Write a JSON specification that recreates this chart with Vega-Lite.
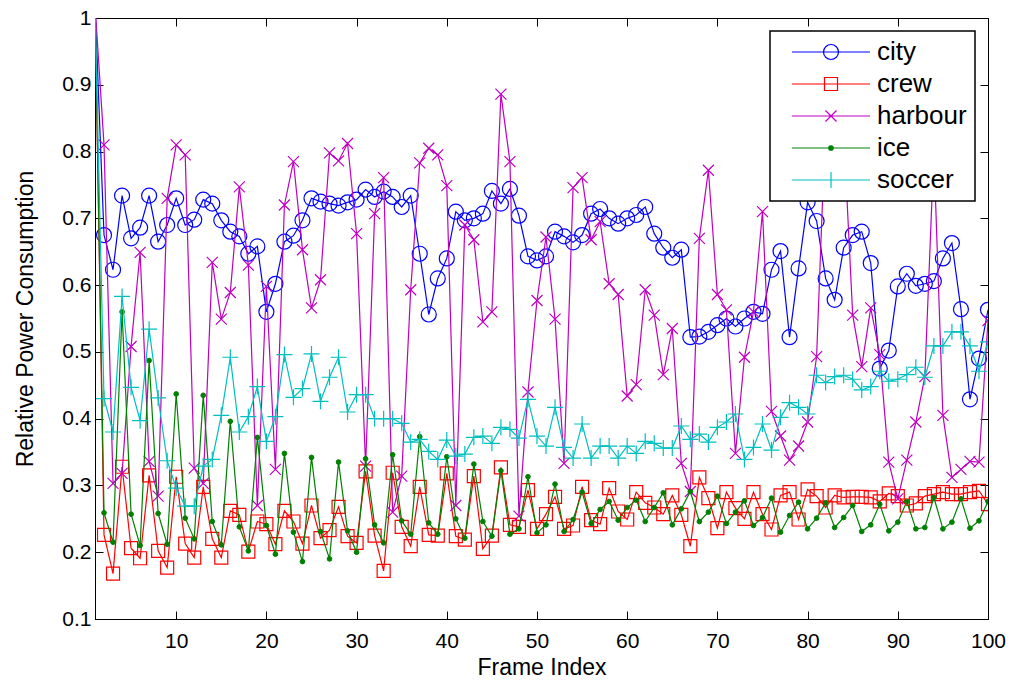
{
  "$schema": "https://vega.github.io/schema/vega-lite/v6.json",
  "autosize": {"type": "none"},
  "padding": {"left": 95, "top": 18, "right": 28, "bottom": 71},
  "width": 893,
  "height": 601,
  "background": "white",
  "config": {
    "view": {"stroke": "black", "strokeWidth": 1},
    "font": "Liberation Sans",
    "axis": {"grid": false, "domainColor": "black", "tickColor": "black", "labelColor": "black", "titleColor": "black", "labelFont": "Liberation Sans", "titleFont": "Liberation Sans", "labelFontSize": 21, "titleFontSize": 23, "titleFontWeight": "normal", "tickSize": -8, "domainWidth": 1, "tickWidth": 1, "labelFlush": false}
  },
  "data": {"values": [
    {"f":1,"city":1.02,"crew":1.02,"harbour":1.02,"ice":1.02,"soccer":1.02},
    {"f":2,"city":0.675,"crew":0.226,"harbour":0.81,"ice":0.259,"soccer":0.43},
    {"f":3,"city":0.623,"crew":0.168,"harbour":0.303,"ice":0.215,"soccer":0.38},
    {"f":4,"city":0.734,"crew":0.328,"harbour":0.318,"ice":0.56,"soccer":0.583},
    {"f":5,"city":0.67,"crew":0.206,"harbour":0.508,"ice":0.257,"soccer":0.447},
    {"f":6,"city":0.686,"crew":0.191,"harbour":0.649,"ice":0.21,"soccer":0.397},
    {"f":7,"city":0.734,"crew":0.315,"harbour":0.336,"ice":0.487,"soccer":0.534},
    {"f":8,"city":0.665,"crew":0.202,"harbour":0.284,"ice":0.258,"soccer":0.431},
    {"f":9,"city":0.69,"crew":0.177,"harbour":0.73,"ice":0.212,"soccer":0.337},
    {"f":10,"city":0.73,"crew":0.313,"harbour":0.81,"ice":0.437,"soccer":0.296},
    {"f":11,"city":0.69,"crew":0.213,"harbour":0.795,"ice":0.251,"soccer":0.269},
    {"f":12,"city":0.698,"crew":0.192,"harbour":0.326,"ice":0.22,"soccer":0.269},
    {"f":13,"city":0.728,"crew":0.298,"harbour":0.303,"ice":0.435,"soccer":0.329},
    {"f":14,"city":0.722,"crew":0.22,"harbour":0.634,"ice":0.246,"soccer":0.339},
    {"f":15,"city":0.697,"crew":0.192,"harbour":0.549,"ice":0.211,"soccer":0.405},
    {"f":16,"city":0.68,"crew":0.262,"harbour":0.589,"ice":0.396,"soccer":0.492},
    {"f":17,"city":0.673,"crew":0.256,"harbour":0.747,"ice":0.238,"soccer":0.38},
    {"f":18,"city":0.647,"crew":0.201,"harbour":0.63,"ice":0.202,"soccer":0.403},
    {"f":19,"city":0.658,"crew":0.246,"harbour":0.27,"ice":0.372,"soccer":0.448},
    {"f":20,"city":0.56,"crew":0.242,"harbour":0.598,"ice":0.24,"soccer":0.366},
    {"f":21,"city":0.602,"crew":0.212,"harbour":0.324,"ice":0.197,"soccer":0.403},
    {"f":22,"city":0.665,"crew":0.262,"harbour":0.72,"ice":0.348,"soccer":0.496},
    {"f":23,"city":0.674,"crew":0.246,"harbour":0.785,"ice":0.23,"soccer":0.432},
    {"f":24,"city":0.697,"crew":0.213,"harbour":0.653,"ice":0.186,"soccer":0.445},
    {"f":25,"city":0.73,"crew":0.27,"harbour":0.566,"ice":0.342,"soccer":0.497},
    {"f":26,"city":0.725,"crew":0.221,"harbour":0.608,"ice":0.231,"soccer":0.426},
    {"f":27,"city":0.722,"crew":0.233,"harbour":0.798,"ice":0.19,"soccer":0.462},
    {"f":28,"city":0.719,"crew":0.268,"harbour":0.786,"ice":0.335,"soccer":0.492},
    {"f":29,"city":0.724,"crew":0.224,"harbour":0.812,"ice":0.232,"soccer":0.41},
    {"f":30,"city":0.728,"crew":0.214,"harbour":0.677,"ice":0.2,"soccer":0.436},
    {"f":31,"city":0.743,"crew":0.321,"harbour":0.329,"ice":0.34,"soccer":0.436},
    {"f":32,"city":0.732,"crew":0.225,"harbour":0.707,"ice":0.241,"soccer":0.4},
    {"f":33,"city":0.74,"crew":0.172,"harbour":0.761,"ice":0.214,"soccer":0.4},
    {"f":34,"city":0.732,"crew":0.319,"harbour":0.26,"ice":0.346,"soccer":0.4},
    {"f":35,"city":0.717,"crew":0.238,"harbour":0.314,"ice":0.247,"soccer":0.393},
    {"f":36,"city":0.734,"crew":0.209,"harbour":0.593,"ice":0.227,"soccer":0.365},
    {"f":37,"city":0.647,"crew":0.298,"harbour":0.783,"ice":0.373,"soccer":0.369},
    {"f":38,"city":0.556,"crew":0.226,"harbour":0.805,"ice":0.244,"soccer":0.351},
    {"f":39,"city":0.61,"crew":0.225,"harbour":0.795,"ice":0.227,"soccer":0.339},
    {"f":40,"city":0.64,"crew":0.318,"harbour":0.749,"ice":0.343,"soccer":0.368},
    {"f":41,"city":0.71,"crew":0.224,"harbour":0.27,"ice":0.25,"soccer":0.344},
    {"f":42,"city":0.697,"crew":0.219,"harbour":0.69,"ice":0.221,"soccer":0.347},
    {"f":43,"city":0.7,"crew":0.314,"harbour":0.668,"ice":0.332,"soccer":0.372},
    {"f":44,"city":0.707,"crew":0.205,"harbour":0.545,"ice":0.246,"soccer":0.374},
    {"f":45,"city":0.741,"crew":0.225,"harbour":0.56,"ice":0.224,"soccer":0.363},
    {"f":46,"city":0.722,"crew":0.327,"harbour":0.886,"ice":0.322,"soccer":0.387},
    {"f":47,"city":0.744,"crew":0.241,"harbour":0.785,"ice":0.227,"soccer":0.384},
    {"f":48,"city":0.704,"crew":0.238,"harbour":0.254,"ice":0.235,"soccer":0.371},
    {"f":49,"city":0.643,"crew":0.293,"harbour":0.44,"ice":0.313,"soccer":0.429},
    {"f":50,"city":0.637,"crew":0.235,"harbour":0.577,"ice":0.229,"soccer":0.374},
    {"f":51,"city":0.643,"crew":0.257,"harbour":0.672,"ice":0.241,"soccer":0.359},
    {"f":52,"city":0.68,"crew":0.283,"harbour":0.549,"ice":0.302,"soccer":0.417},
    {"f":53,"city":0.673,"crew":0.235,"harbour":0.333,"ice":0.231,"soccer":0.357},
    {"f":54,"city":0.664,"crew":0.24,"harbour":0.746,"ice":0.249,"soccer":0.341},
    {"f":55,"city":0.675,"crew":0.298,"harbour":0.761,"ice":0.29,"soccer":0.392},
    {"f":56,"city":0.707,"crew":0.248,"harbour":0.668,"ice":0.243,"soccer":0.341},
    {"f":57,"city":0.714,"crew":0.242,"harbour":0.695,"ice":0.264,"soccer":0.359},
    {"f":58,"city":0.7,"crew":0.296,"harbour":0.602,"ice":0.276,"soccer":0.359},
    {"f":59,"city":0.692,"crew":0.261,"harbour":0.586,"ice":0.248,"soccer":0.341},
    {"f":60,"city":0.7,"crew":0.249,"harbour":0.434,"ice":0.267,"soccer":0.359},
    {"f":61,"city":0.705,"crew":0.29,"harbour":0.451,"ice":0.278,"soccer":0.348},
    {"f":62,"city":0.717,"crew":0.274,"harbour":0.593,"ice":0.246,"soccer":0.366},
    {"f":63,"city":0.677,"crew":0.267,"harbour":0.555,"ice":0.267,"soccer":0.363},
    {"f":64,"city":0.656,"crew":0.257,"harbour":0.466,"ice":0.289,"soccer":0.356},
    {"f":65,"city":0.641,"crew":0.285,"harbour":0.535,"ice":0.241,"soccer":0.356},
    {"f":66,"city":0.653,"crew":0.256,"harbour":0.333,"ice":0.265,"soccer":0.389},
    {"f":67,"city":0.522,"crew":0.209,"harbour":0.291,"ice":0.291,"soccer":0.369},
    {"f":68,"city":0.523,"crew":0.312,"harbour":0.67,"ice":0.246,"soccer":0.377},
    {"f":69,"city":0.53,"crew":0.281,"harbour":0.772,"ice":0.26,"soccer":0.365},
    {"f":70,"city":0.54,"crew":0.236,"harbour":0.586,"ice":0.284,"soccer":0.387},
    {"f":71,"city":0.55,"crew":0.29,"harbour":0.563,"ice":0.243,"soccer":0.395},
    {"f":72,"city":0.538,"crew":0.266,"harbour":0.348,"ice":0.26,"soccer":0.407},
    {"f":73,"city":0.55,"crew":0.25,"harbour":0.492,"ice":0.277,"soccer":0.339},
    {"f":74,"city":0.56,"crew":0.29,"harbour":0.56,"ice":0.24,"soccer":0.357},
    {"f":75,"city":0.557,"crew":0.257,"harbour":0.71,"ice":0.252,"soccer":0.392},
    {"f":76,"city":0.623,"crew":0.234,"harbour":0.411,"ice":0.281,"soccer":0.353},
    {"f":77,"city":0.651,"crew":0.285,"harbour":0.374,"ice":0.23,"soccer":0.402},
    {"f":78,"city":0.522,"crew":0.29,"harbour":0.338,"ice":0.255,"soccer":0.424},
    {"f":79,"city":0.625,"crew":0.249,"harbour":0.359,"ice":0.275,"soccer":0.417},
    {"f":80,"city":0.724,"crew":0.294,"harbour":0.395,"ice":0.235,"soccer":0.407},
    {"f":81,"city":0.696,"crew":0.284,"harbour":0.493,"ice":0.251,"soccer":0.465},
    {"f":82,"city":0.61,"crew":0.267,"harbour":0.85,"ice":0.274,"soccer":0.454},
    {"f":83,"city":0.578,"crew":0.285,"harbour":0.8,"ice":0.237,"soccer":0.463},
    {"f":84,"city":0.656,"crew":0.282,"harbour":0.83,"ice":0.252,"soccer":0.465},
    {"f":85,"city":0.675,"crew":0.283,"harbour":0.555,"ice":0.27,"soccer":0.459},
    {"f":86,"city":0.68,"crew":0.283,"harbour":0.478,"ice":0.231,"soccer":0.443},
    {"f":87,"city":0.633,"crew":0.282,"harbour":0.566,"ice":0.241,"soccer":0.448},
    {"f":88,"city":0.475,"crew":0.276,"harbour":0.496,"ice":0.272,"soccer":0.471},
    {"f":89,"city":0.502,"crew":0.288,"harbour":0.335,"ice":0.232,"soccer":0.456},
    {"f":90,"city":0.598,"crew":0.284,"harbour":0.28,"ice":0.245,"soccer":0.459},
    {"f":91,"city":0.617,"crew":0.27,"harbour":0.338,"ice":0.276,"soccer":0.466},
    {"f":92,"city":0.599,"crew":0.273,"harbour":0.395,"ice":0.235,"soccer":0.477},
    {"f":93,"city":0.602,"crew":0.284,"harbour":0.463,"ice":0.237,"soccer":0.462},
    {"f":94,"city":0.606,"crew":0.287,"harbour":0.8,"ice":0.282,"soccer":0.509},
    {"f":95,"city":0.64,"crew":0.29,"harbour":0.405,"ice":0.235,"soccer":0.509},
    {"f":96,"city":0.663,"crew":0.287,"harbour":0.312,"ice":0.245,"soccer":0.53},
    {"f":97,"city":0.564,"crew":0.287,"harbour":0.324,"ice":0.28,"soccer":0.53},
    {"f":98,"city":0.429,"crew":0.29,"harbour":0.336,"ice":0.236,"soccer":0.509},
    {"f":99,"city":0.49,"crew":0.292,"harbour":0.335,"ice":0.247,"soccer":0.471},
    {"f":100,"city":0.563,"crew":0.272,"harbour":0.547,"ice":0.276,"soccer":0.515}
  ]},
  "transform": [{"fold": ["city", "crew", "harbour", "ice", "soccer"], "as": ["series", "value"]}],
  "resolve": {"axis": {"x": "independent", "y": "independent"}},
  "layer": [
    {
      "transform": [{"filter": "datum.series === 'city'"}],
      "mark": {"type": "line", "strokeWidth": 1.2, "clip": true},
      "encoding": {
        "x": {"field": "f", "type": "quantitative", "scale": {"domain": [1, 100], "nice": false, "zero": false},
              "axis": {"orient": "bottom", "values": [10,20,30,40,50,60,70,80,90,100], "title": "Frame Index", "labelPadding": 19, "titlePadding": 5}},
        "y": {"field": "value", "type": "quantitative", "scale": {"domain": [0.1, 1], "nice": false, "zero": false},
              "axis": {"orient": "left", "values": [0.1,0.2,0.3,0.4,0.5,0.6,0.7,0.8,0.9,1], "format": ".1~f", "title": "Relative Power Consumption", "labelPadding": 12, "titlePadding": 24}},
        "color": {"field": "series", "type": "nominal",
          "scale": {"domain": ["city", "crew", "harbour", "ice", "soccer"], "range": ["#0000ff", "#ff0000", "#bf00bf", "#008000", "#00bfbf"]},
          "legend": {
            "orient": "top-right", "offset": 13, "title": null,
            "strokeColor": "black", "fillColor": "white", "padding": 8,
            "labelFont": "Liberation Sans", "labelFontSize": 26, "labelColor": "black", "labelExpr": "datum.label + ' '",
            "symbolSize": 196, "symbolStrokeWidth": 1.2, "symbolOffset": 40, "labelOffset": 33, "rowPadding": 6,
            "encode": {
              "legend": {"update": {"strokeWidth": {"value": 1.5}}},
              "symbols": {"update": {
              "shape": {"signal": "datum.value === 'city' ? 'M-5.57,0L5.57,0M-1.07,0A1.07,1.07 0 1,0 1.07,0A1.07,1.07 0 1,0 -1.07,0' : datum.value === 'crew' ? 'M-5.57,0L5.57,0M-0.93,-0.93L0.93,-0.93L0.93,0.93L-0.93,0.93Z' : datum.value === 'harbour' ? 'M-5.57,0L5.57,0M-0.79,-0.79L0.79,0.79M-0.79,0.79L0.79,-0.79' : datum.value === 'ice' ? 'M-5.57,0L5.57,0M-0.32,0A0.32,0.32 0 1,0 0.32,0A0.32,0.32 0 1,0 -0.32,0' : 'M-5.57,0L5.57,0M-1.14,0L1.14,0M0,-1.14L0,1.14'"},
              "stroke": {"signal": "scale('color', datum.value)"},
              "fill": {"signal": "datum.value === 'ice' ? '#008000' : 'transparent'"},
              "opacity": {"value": 1}
            }}}
          }}
      }
    },
    {
      "transform": [{"filter": "datum.series === 'city'"}],
      "mark": {"type": "point", "shape": "circle", "size": 225, "filled": false, "stroke": "#0000ff", "strokeWidth": 1.2, "opacity": 1, "clip": true},
      "encoding": {
        "x": {"field": "f", "type": "quantitative", "axis": {"orient": "top", "values": [10,20,30,40,50,60,70,80,90,100], "labels": false, "title": null}},
        "y": {"field": "value", "type": "quantitative", "axis": {"orient": "right", "values": [0.1,0.2,0.3,0.4,0.5,0.6,0.7,0.8,0.9,1], "labels": false, "title": null}}
      }
    },
    {
      "transform": [{"filter": "datum.series === 'crew'"}],
      "mark": {"type": "line", "strokeWidth": 1.2, "clip": true},
      "encoding": {
        "x": {"field": "f", "type": "quantitative", "axis": null},
        "y": {"field": "value", "type": "quantitative", "axis": null},
        "color": {"field": "series", "type": "nominal"}
      }
    },
    {
      "transform": [{"filter": "datum.series === 'crew'"}],
      "mark": {"type": "point", "shape": "square", "size": 169, "filled": false, "stroke": "#ff0000", "strokeWidth": 1.2, "opacity": 1, "clip": true},
      "encoding": {
        "x": {"field": "f", "type": "quantitative", "axis": null},
        "y": {"field": "value", "type": "quantitative", "axis": null}
      }
    },
    {
      "transform": [{"filter": "datum.series === 'harbour'"}],
      "mark": {"type": "line", "strokeWidth": 1.2, "clip": true},
      "encoding": {
        "x": {"field": "f", "type": "quantitative", "axis": null},
        "y": {"field": "value", "type": "quantitative", "axis": null},
        "color": {"field": "series", "type": "nominal"}
      }
    },
    {
      "transform": [{"filter": "datum.series === 'harbour'"}],
      "mark": {"type": "point", "shape": "M-1,-1L1,1M-1,1L1,-1", "size": 121, "filled": false, "stroke": "#bf00bf", "strokeWidth": 1.2, "opacity": 1, "clip": true},
      "encoding": {
        "x": {"field": "f", "type": "quantitative", "axis": null},
        "y": {"field": "value", "type": "quantitative", "axis": null}
      }
    },
    {
      "transform": [{"filter": "datum.series === 'ice'"}],
      "mark": {"type": "line", "strokeWidth": 1.2, "clip": true},
      "encoding": {
        "x": {"field": "f", "type": "quantitative", "axis": null},
        "y": {"field": "value", "type": "quantitative", "axis": null},
        "color": {"field": "series", "type": "nominal"}
      }
    },
    {
      "transform": [{"filter": "datum.series === 'ice'"}],
      "mark": {"type": "point", "shape": "circle", "size": 22, "filled": true, "fill": "#008000", "stroke": "#008000", "strokeWidth": 1, "opacity": 1, "clip": true},
      "encoding": {
        "x": {"field": "f", "type": "quantitative", "axis": null},
        "y": {"field": "value", "type": "quantitative", "axis": null}
      }
    },
    {
      "transform": [{"filter": "datum.series === 'soccer'"}],
      "mark": {"type": "line", "strokeWidth": 1.2, "clip": true},
      "encoding": {
        "x": {"field": "f", "type": "quantitative", "axis": null},
        "y": {"field": "value", "type": "quantitative", "axis": null},
        "color": {"field": "series", "type": "nominal"}
      }
    },
    {
      "transform": [{"filter": "datum.series === 'soccer'"}],
      "mark": {"type": "point", "shape": "M-1,0L1,0M0,-1L0,1", "size": 256, "filled": false, "stroke": "#00bfbf", "strokeWidth": 1.2, "opacity": 1, "clip": true},
      "encoding": {
        "x": {"field": "f", "type": "quantitative", "axis": null},
        "y": {"field": "value", "type": "quantitative", "axis": null}
      }
    }
  ]
}
